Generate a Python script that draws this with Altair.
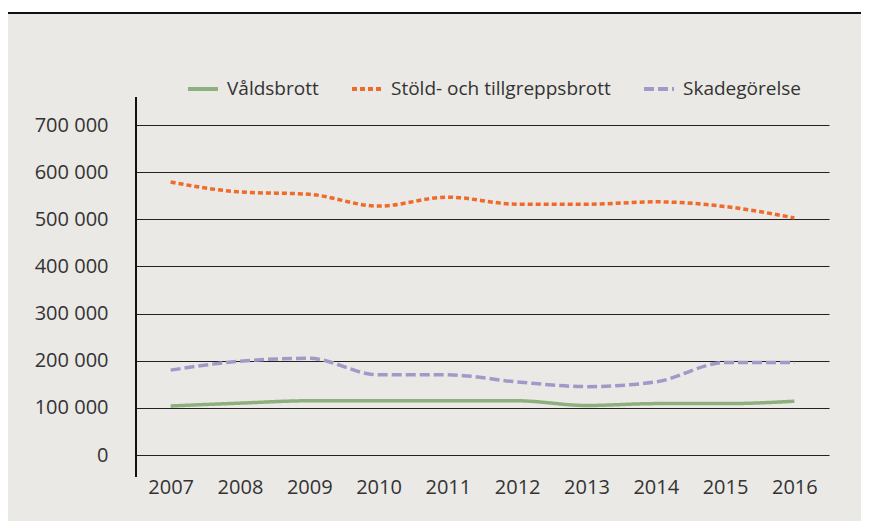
import altair as alt
import pandas as pd

years = ["2007", "2008", "2009", "2010", "2011", "2012", "2013", "2014", "2015", "2016"]
series_names = ["Våldsbrott", "Stöld- och tillgreppsbrott", "Skadegörelse"]
valdsbrott = [104000, 110000, 115000, 115000, 115000, 115000, 105000, 109000, 109000, 114000]
stold = [579000, 558000, 553000, 528000, 547000, 532000, 532000, 537000, 527000, 503000]
skadegorelse = [180000, 199000, 205000, 170000, 170000, 155000, 145000, 155000, 196000, 196000]
y_ticks = [0, 100000, 200000, 300000, 400000, 500000, 600000, 700000]

colors = ["#8db07f", "#ee6b2a", "#a399c9"]
dashes = [[1, 0], [5, 3], [10, 4]]

rows = []
for name, vals in zip(series_names, [valdsbrott, stold, skadegorelse]):
    for yr, v in zip(years, vals):
        rows.append({"year": yr, "value": v, "series": name})
df = pd.DataFrame(rows)

W, H = 693, 330
font = "Open Sans"

lines = alt.Chart(df).mark_line(strokeWidth=3.5, interpolate="monotone").encode(
    x=alt.X("year:N", sort=years, scale=alt.Scale(paddingInner=0, paddingOuter=0.5),
            axis=alt.Axis(title=None, labelAngle=0, ticks=False, domain=False,
                          labelPadding=22, labelFontSize=20, labelColor="#333333",
                          labelFont=font, grid=False)),
    y=alt.Y("value:Q", scale=alt.Scale(domain=[0, 700000], nice=False),
            axis=alt.Axis(title=None, values=y_ticks, ticks=False, domain=False,
                          labelPadding=28, labelFontSize=20, labelColor="#333333",
                          labelFont=font, gridColor="#222222", gridWidth=1.2,
                          labelExpr="replace(format(datum.value, ','), ',', ' ')")),
    color=alt.Color("series:N", sort=series_names,
                    scale=alt.Scale(domain=series_names, range=colors),
                    legend=alt.Legend(title=None, orient="none", direction="horizontal",
                                      legendX=50, legendY=-53, symbolType="stroke",
                                      symbolSize=900, symbolStrokeWidth=4,
                                      labelFontSize=19, labelFont=font, labelColor="#333333",
                                      labelOffset=7, columnPadding=25, labelLimit=400)),
    strokeDash=alt.StrokeDash("series:N", sort=series_names,
                              scale=alt.Scale(domain=series_names, range=dashes),
                              legend=None),
)

vaxis = alt.Chart(df).mark_rule(color="#111111", strokeWidth=2).encode(
    x=alt.value(0), y=alt.value(-28), y2=alt.value(352)
)
white_top = alt.Chart(df).mark_rect(color="white").encode(
    x=alt.value(-130), x2=alt.value(740), y=alt.value(-120), y2=alt.value(-113)
)
top_line = alt.Chart(df).mark_rule(color="#111111", strokeWidth=2).encode(
    x=alt.value(-128), x2=alt.value(740), y=alt.value(-112)
)

chart = alt.layer(white_top, top_line, lines, vaxis).properties(
    width=W, height=H,
    padding={"left": 128, "top": 117, "right": 32, "bottom": 66},
    autosize=alt.AutoSizeParams(type="none"),
    background="#eae9e5",
).configure_view(stroke=None)

chart.save("out.html", embed_options={"renderer": "svg", "actions": False})
